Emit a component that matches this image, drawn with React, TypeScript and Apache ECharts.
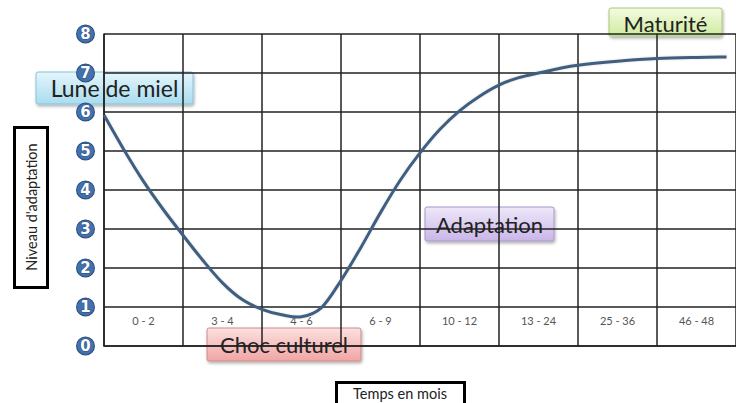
import React, { useEffect, useRef } from "react";
import * as echarts from "echarts";

const categories = ["0 - 2", "3 - 4", "4 - 6", "6 - 9", "10 - 12", "13 - 24", "25 - 36", "46 - 48"];
const yTicks = [0, 1, 2, 3, 4, 5, 6, 7, 8];
// curve points: [position in columns from left edge, adaptation level]
const curveX = [0, 0.25, 0.5, 0.75, 1.0, 1.25, 1.5, 1.75, 2.0, 2.25, 2.5, 2.75, 3.0, 3.25, 3.5, 3.75, 4.0, 4.25, 4.5, 4.75, 5.0, 5.25, 5.5, 5.75, 6.0, 6.5, 7.0, 7.5, 7.88];
const curveY = [5.92, 5.04, 4.22, 3.5, 2.84, 2.2, 1.62, 1.19, 0.94, 0.8, 0.75, 0.98, 1.68, 2.52, 3.42, 4.25, 4.95, 5.55, 6.03, 6.4, 6.69, 6.88, 7.0, 7.11, 7.2, 7.3, 7.37, 7.4, 7.41];
const phaseLabels = ["Lune de miel", "Choc culturel", "Adaptation", "Maturité"];
const yTitle = "Niveau d'adaptation";
const xTitle = "Temps en mois";

const FONT = "Lato, 'Open Sans', sans-serif";

function callout(text: string, x: number, y: number, w: number, h: number, c1: string, c2: string, border: string, fontSize: number, dy = 0) {
  return {
    type: "group",
    x,
    y,
    z: 100,
    children: [
      {
        type: "rect",
        shape: { x: 0, y: 0, width: w, height: h, r: 2 },
        style: {
          fill: new echarts.graphic.LinearGradient(0, 0, 0, 1, [
            { offset: 0, color: c1 },
            { offset: 1, color: c2 },
          ]),
          stroke: border,
          lineWidth: 1,
          shadowBlur: 3,
          shadowOffsetX: 1,
          shadowOffsetY: 2,
          shadowColor: "rgba(0,0,0,0.3)",
        },
      },
      {
        type: "text",
        x: w / 2,
        y: h / 2 + dy,
        style: {
          text,
          fill: "#222",
          font: `${fontSize}px ${FONT}`,
          align: "center",
          verticalAlign: "middle",
        },
      },
    ],
  };
}

export default function App() {
  const ref = useRef<HTMLDivElement>(null);
  useEffect(() => {
    if (!ref.current) return;
    const chart = echarts.init(ref.current, undefined, { renderer: "svg" });
    const data = curveX.map((x, i) => [x, curveY[i]]);
    chart.setOption({
      animation: false,
      backgroundColor: "#fff",
      grid: { left: 104, top: 34, width: 641, height: 312, containLabel: false },
      xAxis: [
        {
          type: "category",
          data: categories,
          boundaryGap: true,
          axisLine: { show: true, lineStyle: { color: "#222", width: 1.5 } },
          axisTick: { show: false },
          splitLine: { show: true, lineStyle: { color: "#222", width: 1.5 } },
          axisLabel: {
            inside: true,
            margin: 26,
            verticalAlign: "middle",
            color: "#555",
            fontSize: 11,
            fontFamily: FONT,
            interval: 0,
          },
          z: 1,
        },
        { type: "value", min: 0, max: 8, show: false },
      ],
      yAxis: {
        type: "value",
        min: 0,
        max: 8,
        interval: 1,
        axisLine: { show: true, lineStyle: { color: "#222", width: 1.5 } },
        axisTick: { show: false },
        splitLine: { show: true, lineStyle: { color: "#222", width: 1.5 } },
        axisLabel: {
          margin: 10,
          formatter: (v: number) => (yTicks.includes(v) ? `{b|${v}}` : ""),
          rich: {
            b: {
              backgroundColor: "#4371ad",
              borderColor: "#2b4e80",
              borderWidth: 1,
              borderRadius: 9,
              width: 17,
              height: 17,
              lineHeight: 17,
              align: "center",
              color: "#ffffff",
              fontWeight: "bold",
              fontSize: 15,
              fontFamily: "'DejaVu Sans', sans-serif",
              textBorderColor: "#2b4e80",
              textBorderWidth: 1,
            },
          },
        },
      },
      series: [
        {
          type: "custom",
          xAxisIndex: 1,
          data,
          encode: { x: 0, y: 1 },
          z: 5,
          clip: false,
          renderItem: (params: any, api: any) => {
            if (params.dataIndex !== 0) return null;
            const pts = data.map((d) => api.coord(d));
            let dStr = `M${pts[0][0]},${pts[0][1]}`;
            for (let i = 0; i < pts.length - 1; i++) {
              const p0 = pts[Math.max(0, i - 1)];
              const p1 = pts[i];
              const p2 = pts[i + 1];
              const p3 = pts[Math.min(pts.length - 1, i + 2)];
              const c1x = p1[0] + (p2[0] - p0[0]) / 6;
              const c1y = p1[1] + (p2[1] - p0[1]) / 6;
              const c2x = p2[0] - (p3[0] - p1[0]) / 6;
              const c2y = p2[1] - (p3[1] - p1[1]) / 6;
              dStr += ` C${c1x},${c1y} ${c2x},${c2y} ${p2[0]},${p2[1]}`;
            }
            return {
              type: "path",
              shape: { pathData: dStr },
              style: {
                fill: "none",
                stroke: "#3f5e80",
                lineWidth: 3,
                shadowColor: "rgba(0,0,0,0.15)",
                shadowBlur: 2,
              },
            };
          },
        },
      ],
      graphic: [
        callout(phaseLabels[0], 36, 72, 157, 32, "#e4f6fc", "#a9dcef", "#86c3da", 23),
        callout(phaseLabels[1], 207, 328, 154, 33, "#fde0e0", "#f0a5a5", "#d08a8a", 22),
        callout(phaseLabels[2], 425, 207, 129, 34, "#efe8fa", "#c9b5e8", "#a996cc", 22),
        callout(phaseLabels[3], 609, 8, 113, 28, "#f4fbe0", "#cfeba0", "#a8c880", 22, 1),
        {
          type: "rect",
          z: 100,
          shape: { x: 14.5, y: 127.5, width: 33, height: 160 },
          style: { fill: "#fff", stroke: "#000", lineWidth: 3 },
        },
        {
          type: "text",
          z: 101,
          x: 31,
          y: 207,
          rotation: Math.PI / 2,
          style: { text: yTitle, fill: "#222", font: `14.5px ${FONT}`, align: "center", verticalAlign: "middle" },
        },
        {
          type: "rect",
          z: 100,
          shape: { x: 336.5, y: 382.5, width: 128, height: 30 },
          style: { fill: "#fff", stroke: "#000", lineWidth: 3 },
        },
        {
          type: "text",
          z: 101,
          x: 400,
          y: 393,
          style: { text: xTitle, fill: "#222", font: `14.5px ${FONT}`, align: "center", verticalAlign: "middle" },
        },
      ],
    });
    return () => chart.dispose();
  }, []);
  return <div ref={ref} style={{ width: 736, height: 403, position: "absolute", left: 0, top: 0 }} />;
}
